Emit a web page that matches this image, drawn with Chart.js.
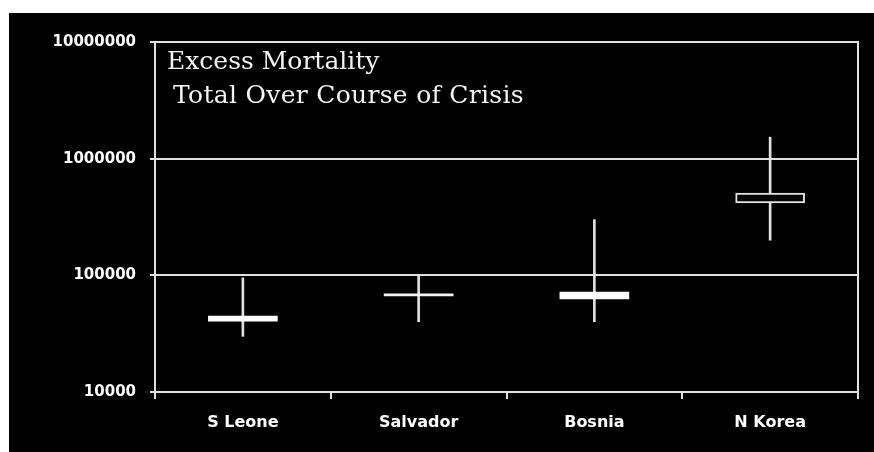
<!DOCTYPE html>
<html>
<head>
<meta charset="utf-8">
<script src="https://cdn.jsdelivr.net/npm/chart.js@4"></script>
<style>
  html, body { margin: 0; padding: 0; background: #fff; }
  #wrap { position: absolute; left: 9px; top: 13px; width: 865px; height: 439px; background: #000; }
</style>
</head>
<body>
<div id="wrap"><canvas id="chart"></canvas></div>
<script>
// Datos
const categories = ['S Leone', 'Salvador', 'Bosnia', 'N Korea'];
const rangeLow = [30000, 40000, 40000, 200000];
const rangeHigh = [95000, 100000, 300000, 1530000];
const estLow = [40500, 66500, 62700, 417000];
const estHigh = [44800, 69500, 71900, 507000];
const yTicks = [10000, 100000, 1000000, 10000000];
const yTickLabels = ['10000', '100000', '1000000', '10000000'];
const titleLines = ['Excess Mortality', 'Total Over Course of Crisis'];

const LINE = '#e0e0e0';

// Título dentro del área del gráfico
const titlePlugin = {
  id: 'insideTitle',
  afterDraw(chart) {
    const { ctx, chartArea } = chart;
    ctx.save();
    ctx.fillStyle = '#f4f4f4';
    ctx.font = '25px "DejaVu Serif"';
    ctx.textBaseline = 'alphabetic';
    ctx.fillText(titleLines[0], chartArea.left + 12, chartArea.top + 27);
    ctx.letterSpacing = '0.3px';
    ctx.fillText(titleLines[1], chartArea.left + 18, chartArea.top + 61);
    ctx.restore();
  }
};

new Chart(document.getElementById('chart'), {
  type: 'bar',
  data: {
    labels: categories,
    datasets: [
      {
        label: 'Range',
        data: categories.map((_, i) => [rangeLow[i], rangeHigh[i]]),
        backgroundColor: LINE,
        barThickness: 2,
        grouped: false,
        order: 1
      },
      {
        label: 'Estimate',
        data: categories.map((_, i) => [estLow[i], estHigh[i]]),
        backgroundColor: ['#fff', '#f4f4f4', '#fff', '#000'],
        borderColor: ['#fff', '#f4f4f4', '#fff', LINE],
        borderWidth: [0, 0, 0, 2],
        borderSkipped: false,
        barThickness: 69,
        grouped: false,
        order: 0
      }
    ]
  },
  options: {
    responsive: true,
    maintainAspectRatio: false,
    animation: false,
    layout: { padding: { left: 0, top: 29, right: 16, bottom: 0 } },
    plugins: { legend: { display: false }, tooltip: { enabled: false } },
    scales: {
      x: {
        grid: { drawOnChartArea: false, color: LINE, lineWidth: 2, tickLength: 7 },
        border: { color: LINE, width: 2 },
        ticks: { color: '#fff', padding: 14, font: { family: 'DejaVu Sans', weight: 'bold', size: 16 } },
        afterFit: s => { s.height = 60; }
      },
      y: {
        type: 'logarithmic',
        min: 10000,
        max: 10000000,
        afterBuildTicks: s => { s.ticks = yTicks.map(v => ({ value: v })); },
        grid: { color: LINE, lineWidth: 2, tickLength: 5 },
        border: { color: LINE, width: 2 },
        ticks: {
          color: '#fff',
          padding: 14,
          font: { family: 'DejaVu Sans', weight: 'bold', size: 15 },
          callback: v => yTickLabels[yTicks.indexOf(v)]
        },
        afterFit: s => { s.width = 146; }
      },
      y2: {
        position: 'right',
        grid: { display: false },
        ticks: { display: false },
        border: { color: LINE, width: 2 },
        afterFit: s => { s.width = 0; }
      }
    }
  },
  plugins: [titlePlugin]
});
</script>
</body>
</html>
